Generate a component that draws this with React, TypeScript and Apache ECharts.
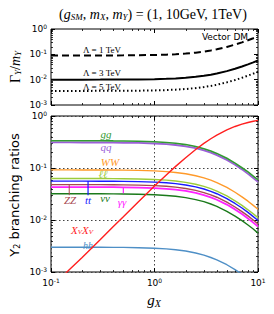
import React, { useEffect, useRef } from 'react';
import * as echarts from 'echarts';

// coupling g_X sample points
const gX = [0.1, 0.15, 0.2, 0.3, 0.4, 0.5, 0.7, 1, 1.3, 1.6, 2, 2.5, 3, 3.5, 4, 5, 6, 7, 8, 9, 10];

// Top panel: Gamma_Y / m_Y
const widthL1 = [0.09, 0.09, 0.09, 0.0904, 0.0907, 0.0911, 0.0921, 0.0942, 0.0971, 0.1008, 0.1069, 0.1165, 0.1281, 0.1418, 0.1577, 0.1958, 0.2423, 0.2973, 0.3607, 0.4326, 0.513];
const widthL3 = [0.01, 0.01, 0.01, 0.01004, 0.01008, 0.01012, 0.01023, 0.01047, 0.01079, 0.0112, 0.01188, 0.01294, 0.01423, 0.01576, 0.01752, 0.02175, 0.02692, 0.03303, 0.04008, 0.04807, 0.057];
const widthL5 = [0.0036, 0.0036, 0.0036, 0.00362, 0.00363, 0.00364, 0.00368, 0.00377, 0.00388, 0.00403, 0.00428, 0.00466, 0.00512, 0.00567, 0.00631, 0.00783, 0.00969, 0.01189, 0.01443, 0.01731, 0.0205];

// Bottom panel: branching ratios
const brGG = [0.335, 0.335, 0.334, 0.334, 0.332, 0.331, 0.327, 0.32, 0.31, 0.299, 0.282, 0.259, 0.235, 0.213, 0.191, 0.154, 0.124, 0.101, 0.084, 0.07, 0.059];
const brQQ = [0.31, 0.31, 0.309, 0.309, 0.308, 0.306, 0.303, 0.296, 0.287, 0.277, 0.261, 0.24, 0.218, 0.197, 0.177, 0.143, 0.115, 0.094, 0.077, 0.064, 0.054];
const brWW = [0.092, 0.092, 0.0918, 0.0916, 0.0913, 0.0909, 0.0899, 0.0879, 0.0852, 0.0821, 0.0774, 0.0711, 0.0646, 0.0584, 0.0525, 0.0423, 0.0342, 0.0279, 0.023, 0.0191, 0.0161];
const brLL = [0.063, 0.0629, 0.0629, 0.0627, 0.0625, 0.0623, 0.0616, 0.0602, 0.0584, 0.0562, 0.053, 0.0487, 0.0443, 0.04, 0.036, 0.029, 0.0234, 0.0191, 0.0157, 0.0131, 0.0111];
const brTT = [0.056, 0.0559, 0.0559, 0.0558, 0.0556, 0.0554, 0.0547, 0.0535, 0.0519, 0.05, 0.0471, 0.0433, 0.0394, 0.0355, 0.032, 0.0257, 0.0208, 0.017, 0.014, 0.0116, 0.0098];
const brZZ = [0.048, 0.0479, 0.0479, 0.0478, 0.0476, 0.0474, 0.0469, 0.0458, 0.0445, 0.0428, 0.0404, 0.0371, 0.0337, 0.0305, 0.0274, 0.0221, 0.0178, 0.0145, 0.012, 0.01, 0.0084];
const brAA = [0.043, 0.043, 0.0429, 0.0428, 0.0427, 0.0425, 0.042, 0.0411, 0.0398, 0.0384, 0.0362, 0.0332, 0.0302, 0.0273, 0.0245, 0.0198, 0.016, 0.013, 0.0107, 0.0089, 0.0075];
const brNN = [0.032, 0.032, 0.0319, 0.0319, 0.0318, 0.0316, 0.0313, 0.0306, 0.0296, 0.0286, 0.0269, 0.0247, 0.0225, 0.0203, 0.0183, 0.0147, 0.0119, 0.0097, 0.008, 0.0067, 0.0056];
const brHH = [0.003, 0.003, 0.003, 0.00299, 0.00298, 0.00297, 0.00293, 0.00287, 0.00278, 0.00268, 0.00253, 0.00232, 0.00211, 0.0019, 0.00171, 0.00138, 0.00111, 0.00091, 0.00075, 0.00062, 0.00053];
const brXX = [0.0005, 0.0011, 0.0019, 0.0042, 0.0075, 0.0116, 0.0225, 0.0449, 0.0736, 0.1074, 0.158, 0.227, 0.297, 0.365, 0.429, 0.54, 0.629, 0.697, 0.751, 0.792, 0.825];

// label connector stubs [gX, from, to]
const stubZZ = [[0.15, 0.03], [0.15, 0.048]];
const stubTT = [[0.228, 0.03], [0.228, 0.056]];
const stubAA = [[0.5, 0.0326], [0.5, 0.0428]];

const xTicks = [0.1, 1, 10];
const yTicks = [0.001, 0.01, 0.1, 1];

const C = {
  gg: '#329a32', qq: '#9b5fd8', ww: '#ff9a2a', ll: '#9ccc3c', tt: '#1a1aff',
  zz: '#a8474f', aa: '#ff22ff', nn: '#1b7a1b', hh: '#4e8fc6', xx: '#ff1f1f',
};

const SERIF = 'Liberation Serif, DejaVu Serif, serif';
const SANS = 'DejaVu Sans, sans-serif';

const zip = (ys: number[]) => gX.map((x, i) => [x, ys[i]]);

const fmt = (v: number) => `{b|10}{s|${Math.round(Math.log10(v))}}`;
const tickRich = {
  b: { fontSize: 9, fontFamily: SANS, color: '#000' },
  s: { fontSize: 6, fontFamily: SANS, color: '#000', padding: [0, 0, 6, 0] },
};

export default function App() {
  const ref = useRef<HTMLDivElement>(null);
  useEffect(() => {
    document.body.style.margin = '0';
    const chart = echarts.init(ref.current!, undefined, { renderer: 'svg' });

    const grids = [
      { left: 51, top: 29, width: 207, height: 76 },
      { left: 51, top: 116, width: 207, height: 156 },
    ];

    const xAxisBase = (grid: number, pos: string, labels: boolean, split: boolean) => ({
      type: 'log', logBase: 10, min: 0.1, max: 10, gridIndex: grid, position: pos,
      axisLine: { show: false },
      axisTick: { show: true, inside: true, length: 4, lineStyle: { color: '#000', width: 1 } },
      axisLabel: { show: labels, formatter: fmt, rich: tickRich, margin: 5, showMinLabel: true, showMaxLabel: true },
      splitLine: { show: split, lineStyle: { type: [1.5, 2.5], color: '#444', width: 1 } },
      minorTick: { show: false },
    });
    const yAxisBase = (grid: number, pos: string, labels: boolean, split: boolean) => ({
      type: 'log', logBase: 10, min: 0.001, max: 1, gridIndex: grid, position: pos,
      axisLine: { show: false },
      axisTick: { show: true, inside: true, length: 4, lineStyle: { color: '#000', width: 1 } },
      axisLabel: { show: labels, formatter: fmt, rich: tickRich, margin: 4, showMinLabel: true, showMaxLabel: true },
      splitLine: { show: split, lineStyle: { type: [1.5, 2.5], color: '#444', width: 1 } },
    });

    const line = (name: string, data: any[], color: string, xi: number, width = 1.4, type: any = 'solid') => ({
      name, type: 'line', data, xAxisIndex: xi, yAxisIndex: xi, showSymbol: false, symbol: 'none',
      lineStyle: { color, width, type }, clip: true, silent: true,
    });

    const series = [
      line('L1', zip(widthL1), '#000', 0, 2, [7, 4]),
      line('L3', zip(widthL3), '#000', 0, 2),
      line('L5', zip(widthL5), '#000', 0, 2, [1.5, 2.5]),
      line('hh', zip(brHH), C.hh, 2),
      line('nn', zip(brNN), C.nn, 2),
      line('aa', zip(brAA), C.aa, 2, 1.8),
      line('zz', zip(brZZ), C.zz, 2),
      line('tt', zip(brTT), C.tt, 2),
      line('ll', zip(brLL), C.ll, 2),
      line('ww', zip(brWW), C.ww, 2),
      line('qq', zip(brQQ), C.qq, 2, 1.8),
      line('gg', zip(brGG), C.gg, 2, 1.6),
      line('xx', zip(brXX), C.xx, 2),
      line('stubZZ', stubZZ, C.zz, 2, 1),
      line('stubTT', stubTT, C.tt, 2, 1.2),
      line('stubAA', stubAA, C.aa, 2, 1.2),
    ];

    chart.setOption({
      animation: false,
      grid: grids.map((g) => ({ ...g, show: true, borderColor: '#000', borderWidth: 1, backgroundColor: 'transparent' })),
      xAxis: [
        xAxisBase(0, 'bottom', false, false),
        xAxisBase(0, 'top', false, false),
        xAxisBase(1, 'bottom', true, true),
        xAxisBase(1, 'top', false, false),
      ],
      yAxis: [
        yAxisBase(0, 'left', true, false),
        yAxisBase(0, 'right', false, false),
        yAxisBase(1, 'left', true, true),
        yAxisBase(1, 'right', false, false),
      ],
      series,
    });

    // minor ticks (matplotlib-like, 2..9 per decade) on all four sides
    const graphics: any[] = [];
    const tickLine = (x1: number, y1: number, x2: number, y2: number) =>
      graphics.push({ type: 'line', silent: true, shape: { x1, y1, x2, y2 }, style: { stroke: '#000', lineWidth: 0.8 } });
    grids.forEach((g, gi) => {
      const xi = gi * 2;
      for (let d = -1; d <= 0; d++) {
        for (let m = 2; m <= 9; m++) {
          const v = m * Math.pow(10, d);
          const px = Math.round(chart.convertToPixel({ xAxisIndex: xi }, v) as number) + 0.5;
          tickLine(px, g.top + g.height, px, g.top + g.height - 2);
          tickLine(px, g.top, px, g.top + 2);
        }
      }
      for (let d = -3; d <= -1; d++) {
        for (let m = 2; m <= 9; m++) {
          const v = m * Math.pow(10, d);
          const py = Math.round(chart.convertToPixel({ yAxisIndex: xi }, v) as number) + 0.5;
          tickLine(g.left, py, g.left + 2, py);
          tickLine(g.left + g.width, py, g.left + g.width - 2, py);
        }
      }
    });

    const txt = (x: number, y: number, text: string, style: any, rotation = 0) =>
      graphics.push({ type: 'text', x, y, rotation, silent: true, style: { text, align: 'center', verticalAlign: 'middle', fill: '#000', ...style } });

    const sub = (fs: number) => ({ fontSize: fs, fontFamily: SERIF, padding: [fs * 0.6, 0, 0, 0] });
    // title
    txt(153, 14, '({i|g}{s|SM}, {i|m}{s|X}, {i|m}{s|Y}) = (1, 10GeV, 1TeV)', {
      fontSize: 14, fontFamily: SERIF,
      rich: { i: { fontSize: 14, fontFamily: SERIF, fontStyle: 'italic' }, s: { ...sub(9), fontStyle: 'italic' } },
    });
    // top y-axis name
    txt(15, 67, '{a|Γ}{s|Y}{a|/}{i|m}{s|Y}', {
      fontSize: 14, fontFamily: SERIF,
      rich: { a: { fontSize: 14, fontFamily: SERIF }, i: { fontSize: 14, fontFamily: SERIF, fontStyle: 'italic' }, s: { ...sub(9), fontStyle: 'italic' } },
    }, Math.PI / 2);
    // bottom y-axis name
    txt(14, 195, '{a|Y}{s|2}{a| branching ratios}', {
      fontSize: 13, fontFamily: SANS,
      rich: { a: { fontSize: 13, fontFamily: SANS }, s: { fontSize: 8, fontFamily: SANS, padding: [7, 0, 0, 0] } },
    }, Math.PI / 2);
    // x-axis name
    txt(154, 300, '{i|g}{s|X}', {
      fontSize: 15, fontFamily: SERIF,
      rich: { i: { fontSize: 15, fontFamily: SERIF, fontStyle: 'italic' }, s: { ...sub(10), fontStyle: 'italic' } },
    });

    // top annotations
    const lam = { fontSize: 9, fontFamily: SERIF };
    txt(102, 50, 'Λ = 1 TeV', lam);
    txt(102, 73, 'Λ = 3 TeV', lam);
    txt(102, 87, 'Λ = 5 TeV', lam);
    txt(225, 37, 'Vector DM', { fontSize: 9, fontFamily: SANS });

    // bottom annotations
    const it = (color: string, fs = 11) => ({ fontSize: fs, fontFamily: SERIF, fontStyle: 'italic', fill: color });
    txt(106, 134, 'gg', it(C.gg));
    txt(106, 147, 'qq', it(C.qq));
    txt(110, 162, 'WW', it(C.ww));
    txt(103, 174, 'ℓℓ', it(C.ll));
    txt(70, 200, 'ZZ', it(C.zz));
    txt(88, 200, 'tt', it(C.tt));
    txt(105, 198, 'νν', it(C.nn));
    txt(122, 202, 'γγ', it(C.aa));
    txt(82, 230, '{m|X}{s|V}{m|X}{s|V}', {
      fontSize: 11, fontFamily: SERIF, fill: C.xx,
      rich: { m: { fontSize: 11, fontFamily: SERIF, fontStyle: 'italic', fill: C.xx }, s: { fontSize: 7, fontFamily: SERIF, fontStyle: 'italic', fill: C.xx, padding: [4, 0, 0, 0] } },
    });
    txt(88, 245, 'hh', it(C.hh, 10));

    chart.setOption({ graphic: { elements: graphics } });

    return () => chart.dispose();
  }, []);
  return <div ref={ref} style={{ position: 'absolute', left: 0, top: 0, width: 274, height: 314 }} />;
}
